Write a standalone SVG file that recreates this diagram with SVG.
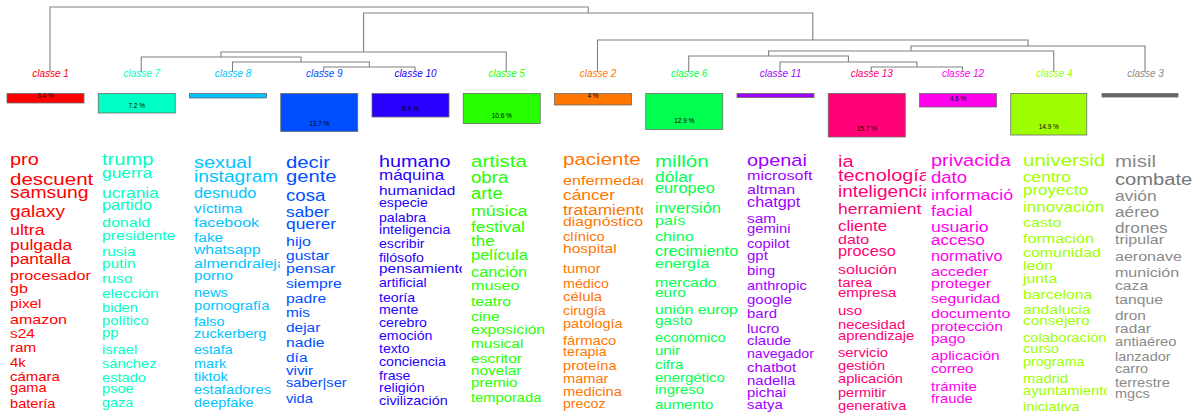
<svg xmlns="http://www.w3.org/2000/svg" width="1203" height="417" viewBox="0 0 1203 417">
<style>
text{font-family:"Liberation Sans",Arial,Helvetica,sans-serif}
.lbl{font-size:10px;font-style:italic;text-anchor:middle}
.pct{font-size:6.5px;fill:#000;text-anchor:middle}
.bar{stroke:#6a6a6a;stroke-width:0.8}
.den{fill:none;stroke:#808080;stroke-width:1.1}
.k1{fill:#FF0000}.k2{fill:#FF7600}.k3{fill:#8a8a8a}.k4{fill:#9DFF00}.k5{fill:#27FF00}.k6{fill:#00FF4E}.k7{fill:#00FFC4}.k8{fill:#00C4FF}.k9{fill:#004EFF}.k10{fill:#2700FF}.k11{fill:#9D00FF}.k12{fill:#FF00EC}.k13{fill:#FF0076}
</style>
<defs>
<clipPath id="cp1"><rect x="5" y="140" width="90" height="277"/></clipPath>
<clipPath id="cp3"><rect x="189" y="140" width="91" height="277"/></clipPath>
<clipPath id="cp5"><rect x="374" y="140" width="88" height="277"/></clipPath>
<clipPath id="cp7"><rect x="558" y="140" width="85" height="277"/></clipPath>
<clipPath id="cp8"><rect x="650" y="140" width="88" height="277"/></clipPath>
<clipPath id="cp10"><rect x="833" y="140" width="93" height="277"/></clipPath>
<clipPath id="cp11"><rect x="926" y="140" width="87" height="277"/></clipPath>
<clipPath id="cp12"><rect x="1018" y="140" width="89" height="277"/></clipPath>
</defs>
<rect width="1203" height="417" fill="#fff"/>

<g id="connectors" class="den">
<path d="M323.75 72 V67 H415 V72"/>
<path d="M232.5 72 V62 H369.4 V67"/>
<path d="M141.25 72 V57 H301 V62"/>
<path d="M221 57 V52 H506.25 V72"/>
<path d="M871.25 72 V67 H962.5 V72"/>
<path d="M780 72 V62 H916.9 V67"/>
<path d="M688.75 72 V56 H848.4 V62"/>
<path d="M768.6 56 V51 H1053.75 V72"/>
<path d="M911 51 V46 H1145 V72"/>
<path d="M597.5 72 V40 H1028 V46"/>
<path d="M363.6 52 V13 H812.8 V40"/>
<path d="M50 72 V7 H588.2 V13"/>
</g>

<g id="classe1">
<text class="lbl k1" x="50.5" y="77">classe 1</text>
<rect class="bar k1" x="7" y="93.5" width="77" height="9.5"/>
<text class="pct" x="45.5" y="97.8">3.4 %</text>
<g class="k1" clip-path="url(#cp1)"><g transform="translate(10,0) scale(1.18,1)">
<text x="0" y="165" font-size="16.9">pro</text>
<text x="0" y="185" font-size="17.4">descuent</text>
<text x="0" y="198.5" font-size="16.4">samsung</text>
<text x="0" y="217" font-size="16.1">galaxy</text>
<text x="0" y="235.5" font-size="15.1">ultra</text>
<text x="0" y="250" font-size="14.8">pulgada</text>
<text x="0" y="264" font-size="14.7">pantalla</text>
<text x="0" y="280" font-size="13.7">procesador</text>
<text x="0" y="293" font-size="13.6">gb</text>
<text x="0" y="308" font-size="13">pixel</text>
<text x="0" y="324" font-size="13.6">amazon</text>
<text x="0" y="338" font-size="13.1">s24</text>
<text x="0" y="352" font-size="12.9">ram</text>
<text x="0" y="367" font-size="12.7">4k</text>
<text x="0" y="381" font-size="12.7">cámara</text>
<text x="0" y="392" font-size="12.4">gama</text>
<text x="0" y="408" font-size="12.4">batería</text>
</g></g>
</g>

<g id="classe7">
<text class="lbl k7" x="141.75" y="77">classe 7</text>
<rect class="bar k7" x="98.25" y="93.5" width="77" height="19.5"/>
<text class="pct" x="136.75" y="107.5">7.2 %</text>
<g class="k7"><g transform="translate(102,0) scale(1.18,1)">
<text x="0" y="165" font-size="17.1">trump</text>
<text x="0" y="178.3" font-size="14.7">guerra</text>
<text x="0" y="198.3" font-size="14.7">ucrania</text>
<text x="0" y="210" font-size="13.8">partido</text>
<text x="0" y="226.7" font-size="13.6">donald</text>
<text x="0" y="240" font-size="13.3">presidente</text>
<text x="0" y="256" font-size="13.1">rusia</text>
<text x="0" y="268.3" font-size="13.1">putin</text>
<text x="0" y="282.7" font-size="13.3">ruso</text>
<text x="0" y="298.3" font-size="13.1">elección</text>
<text x="0" y="311.7" font-size="12.4">biden</text>
<text x="0" y="325" font-size="12.5">político</text>
<text x="0" y="336.7" font-size="12.5">pp</text>
<text x="0" y="354" font-size="12.5">israel</text>
<text x="0" y="368.3" font-size="12.4">sánchez</text>
<text x="0" y="382.3" font-size="12.4">estado</text>
<text x="0" y="392.7" font-size="12.4">psoe</text>
<text x="0" y="406.7" font-size="12.2">gaza</text>
</g></g>
</g>

<g id="classe8">
<text class="lbl k8" x="233" y="77">classe 8</text>
<rect class="bar k8" x="189.5" y="93.5" width="77" height="4.5"/>
<g class="k8" clip-path="url(#cp3)"><g transform="translate(194,0) scale(1.18,1)">
<text x="0" y="168.3" font-size="16.9">sexual</text>
<text x="0" y="181.7" font-size="16.3">instagram</text>
<text x="0" y="198.3" font-size="13.8">desnudo</text>
<text x="0" y="213.3" font-size="13">víctima</text>
<text x="0" y="227.3" font-size="13.6">facebook</text>
<text x="0" y="241.7" font-size="13.1">fake</text>
<text x="0" y="254.3" font-size="13.2">whatsapp</text>
<text x="0" y="267.7" font-size="13.6">almendraleja</text>
<text x="0" y="280" font-size="12.9">porno</text>
<text x="0" y="296.7" font-size="12.3">news</text>
<text x="0" y="310" font-size="12.5">pornografía</text>
<text x="0" y="326" font-size="12.3">falso</text>
<text x="0" y="338.3" font-size="12.4">zuckerberg</text>
<text x="0" y="354" font-size="12">estafa</text>
<text x="0" y="367.7" font-size="12.3">mark</text>
<text x="0" y="380.7" font-size="12.3">tiktok</text>
<text x="0" y="394" font-size="12.5">estafadores</text>
<text x="0" y="406.7" font-size="12.3">deepfake</text>
</g></g>
</g>

<g id="classe9">
<text class="lbl k9" x="324.25" y="77">classe 9</text>
<rect class="bar k9" x="280.75" y="93.5" width="77" height="38"/>
<text class="pct" x="319.25" y="125.5">13.7 %</text>
<g class="k9"><g transform="translate(286,0) scale(1.18,1)">
<text x="0" y="168.3" font-size="17.2">decir</text>
<text x="0" y="181.7" font-size="17.1">gente</text>
<text x="0" y="201" font-size="15.8">cosa</text>
<text x="0" y="217.3" font-size="14.7">saber</text>
<text x="0" y="229.3" font-size="14.7">querer</text>
<text x="0" y="246" font-size="13.6">hijo</text>
<text x="0" y="260" font-size="13.2">gustar</text>
<text x="0" y="272.7" font-size="13.7">pensar</text>
<text x="0" y="288.3" font-size="13.3">siempre</text>
<text x="0" y="303.3" font-size="13.3">padre</text>
<text x="0" y="317.3" font-size="13.1">mis</text>
<text x="0" y="331.7" font-size="13.1">dejar</text>
<text x="0" y="346.7" font-size="13.3">nadie</text>
<text x="0" y="361.7" font-size="13.1">día</text>
<text x="0" y="375" font-size="12.9">vivir</text>
<text x="0" y="387.3" font-size="12.4">saber|ser</text>
<text x="0" y="403.3" font-size="12.4">vida</text>
</g></g>
</g>

<g id="classe10">
<text class="lbl k10" x="415.5" y="77">classe 10</text>
<rect class="bar k10" x="372" y="93.5" width="77" height="23.5"/>
<text class="pct" x="410.5" y="110.5">8.4 %</text>
<g class="k10" clip-path="url(#cp5)"><g transform="translate(379,0) scale(1.18,1)">
<text x="0" y="166.7" font-size="16.8">humano</text>
<text x="0" y="180" font-size="14.4">máquina</text>
<text x="0" y="195" font-size="13.1">humanidad</text>
<text x="0" y="206.7" font-size="12">especie</text>
<text x="0" y="221.7" font-size="12">palabra</text>
<text x="0" y="234.3" font-size="12.1">inteligencia</text>
<text x="0" y="248.3" font-size="12">escribir</text>
<text x="0" y="261.7" font-size="12">filósofo</text>
<text x="0" y="273.3" font-size="13.1">pensamiento</text>
<text x="0" y="287.3" font-size="11.9">artificial</text>
<text x="0" y="301.7" font-size="12">teoría</text>
<text x="0" y="314" font-size="12">mente</text>
<text x="0" y="327.3" font-size="12">cerebro</text>
<text x="0" y="340" font-size="12">emoción</text>
<text x="0" y="353.3" font-size="12">texto</text>
<text x="0" y="366" font-size="12">conciencia</text>
<text x="0" y="380" font-size="12">frase</text>
<text x="0" y="391.7" font-size="12">religión</text>
<text x="0" y="405" font-size="12.2">civilización</text>
</g></g>
</g>

<g id="classe5">
<text class="lbl k5" x="506.75" y="77">classe 5</text>
<rect class="bar k5" x="463.25" y="93.5" width="77" height="30"/>
<text class="pct" x="501.75" y="117.5">10.6 %</text>
<g class="k5"><g transform="translate(471,0) scale(1.18,1)">
<text x="0" y="167.3" font-size="17.4">artista</text>
<text x="0" y="183.3" font-size="15.8">obra</text>
<text x="0" y="199.3" font-size="15.6">arte</text>
<text x="0" y="216" font-size="15.1">música</text>
<text x="0" y="231.7" font-size="14.7">festival</text>
<text x="0" y="246" font-size="14.4">the</text>
<text x="0" y="260" font-size="14">película</text>
<text x="0" y="277.3" font-size="13.8">canción</text>
<text x="0" y="290" font-size="13.7">museo</text>
<text x="0" y="306" font-size="13.3">teatro</text>
<text x="0" y="320.7" font-size="13.3">cine</text>
<text x="0" y="334.3" font-size="13.3">exposición</text>
<text x="0" y="348.3" font-size="13.1">musical</text>
<text x="0" y="363.3" font-size="13.2">escritor</text>
<text x="0" y="375" font-size="13">novelar</text>
<text x="0" y="387.3" font-size="12.9">premio</text>
<text x="0" y="401.7" font-size="12.5">temporada</text>
</g></g>
</g>

<g id="classe2">
<text class="lbl k2" x="598" y="77">classe 2</text>
<rect class="bar k2" x="554.5" y="93.5" width="77" height="11.5"/>
<text class="pct" x="593" y="97.8">4 %</text>
<g class="k2" clip-path="url(#cp7)"><g transform="translate(563,0) scale(1.18,1)">
<text x="0" y="164.7" font-size="17.4">paciente</text>
<text x="0" y="184.7" font-size="13.7">enfermedad</text>
<text x="0" y="199.7" font-size="14.7">cáncer</text>
<text x="0" y="214.7" font-size="14.7">tratamiento</text>
<text x="0" y="226.3" font-size="13.4">diagnóstico</text>
<text x="0" y="241.3" font-size="12.5">clínico</text>
<text x="0" y="253" font-size="13.2">hospital</text>
<text x="0" y="273" font-size="12.5">tumor</text>
<text x="0" y="288" font-size="12.1">médico</text>
<text x="0" y="301.3" font-size="12.7">célula</text>
<text x="0" y="314.7" font-size="12.1">cirugía</text>
<text x="0" y="328" font-size="12.3">patología</text>
<text x="0" y="344.7" font-size="12.5">fármaco</text>
<text x="0" y="356.3" font-size="12.1">terapia</text>
<text x="0" y="369.7" font-size="12.4">proteína</text>
<text x="0" y="383" font-size="12.4">mamar</text>
<text x="0" y="396.3" font-size="12.5">medicina</text>
<text x="0" y="408" font-size="12">precoz</text>
</g></g>
</g>

<g id="classe6">
<text class="lbl k6" x="689.25" y="77">classe 6</text>
<rect class="bar k6" x="645.75" y="93.5" width="77" height="36"/>
<text class="pct" x="684.25" y="122.5">12.9 %</text>
<g class="k6" clip-path="url(#cp8)"><g transform="translate(655,0) scale(1.18,1)">
<text x="0" y="166.7" font-size="17.4">millón</text>
<text x="0" y="181.7" font-size="14.7">dólar</text>
<text x="0" y="193.3" font-size="13.8">europeo</text>
<text x="0" y="212.7" font-size="14">inversión</text>
<text x="0" y="225" font-size="13.6">país</text>
<text x="0" y="240.7" font-size="13.7">chino</text>
<text x="0" y="256" font-size="13.8">crecimiento</text>
<text x="0" y="268.3" font-size="13.6">energía</text>
<text x="0" y="286.7" font-size="13.4">mercado</text>
<text x="0" y="297.3" font-size="13.1">euro</text>
<text x="0" y="314" font-size="13.3">unión europ</text>
<text x="0" y="325" font-size="13">gasto</text>
<text x="0" y="341.7" font-size="12.4">económico</text>
<text x="0" y="355" font-size="12.7">unir</text>
<text x="0" y="369.3" font-size="12.7">cifra</text>
<text x="0" y="381.7" font-size="12.7">energético</text>
<text x="0" y="394" font-size="12.7">ingreso</text>
<text x="0" y="409.3" font-size="12.7">aumento</text>
</g></g>
</g>

<g id="classe11">
<text class="lbl k11" x="780.5" y="77">classe 11</text>
<rect class="bar k11" x="737" y="93.5" width="77" height="4"/>
<g class="k11"><g transform="translate(747,0) scale(1.18,1)">
<text x="0" y="166" font-size="16.9">openai</text>
<text x="0" y="180" font-size="13.7">microsoft</text>
<text x="0" y="194.5" font-size="13.6">altman</text>
<text x="0" y="207" font-size="13.8">chatgpt</text>
<text x="0" y="222.7" font-size="13.1">sam</text>
<text x="0" y="233.3" font-size="12.5">gemini</text>
<text x="0" y="248.3" font-size="12.5">copilot</text>
<text x="0" y="260" font-size="12.7">gpt</text>
<text x="0" y="275" font-size="12.7">bing</text>
<text x="0" y="290" font-size="12.3">anthropic</text>
<text x="0" y="304" font-size="12.7">google</text>
<text x="0" y="318.3" font-size="12.7">bard</text>
<text x="0" y="332.7" font-size="12.7">lucro</text>
<text x="0" y="345" font-size="12.7">claude</text>
<text x="0" y="358.3" font-size="12">navegador</text>
<text x="0" y="371.7" font-size="12.7">chatbot</text>
<text x="0" y="385" font-size="12.7">nadella</text>
<text x="0" y="397.3" font-size="12.7">pichai</text>
<text x="0" y="409.3" font-size="12.7">satya</text>
</g></g>
</g>

<g id="classe13">
<text class="lbl k13" x="871.75" y="77">classe 13</text>
<rect class="bar k13" x="828.25" y="93.5" width="77" height="43.5"/>
<text class="pct" x="866.75" y="130.5">15.7 %</text>
<g class="k13" clip-path="url(#cp10)"><g transform="translate(838,0) scale(1.18,1)">
<text x="0" y="166.7" font-size="16.9">ia</text>
<text x="0" y="180.7" font-size="16.9">tecnología</text>
<text x="0" y="196.7" font-size="16.1">inteligencia</text>
<text x="0" y="214" font-size="14.8">herramient</text>
<text x="0" y="230.7" font-size="14.4">cliente</text>
<text x="0" y="244" font-size="13.6">dato</text>
<text x="0" y="256.5" font-size="13.8">proceso</text>
<text x="0" y="274" font-size="13.6">solución</text>
<text x="0" y="286.7" font-size="12.7">tarea</text>
<text x="0" y="297.3" font-size="12.7">empresa</text>
<text x="0" y="315" font-size="12.7">uso</text>
<text x="0" y="329.3" font-size="12.5">necesidad</text>
<text x="0" y="340" font-size="12.5">aprendizaje</text>
<text x="0" y="357.3" font-size="12.5">servicio</text>
<text x="0" y="370" font-size="12.4">gestión</text>
<text x="0" y="383.3" font-size="12.4">aplicación</text>
<text x="0" y="396.7" font-size="12.3">permitir</text>
<text x="0" y="410" font-size="12.4">generativa</text>
</g></g>
</g>

<g id="classe12">
<text class="lbl k12" x="963" y="77">classe 12</text>
<rect class="bar k12" x="919.5" y="93.5" width="77" height="13.5"/>
<text class="pct" x="958" y="100.5">4.6 %</text>
<g class="k12" clip-path="url(#cp11)"><g transform="translate(931,0) scale(1.18,1)">
<text x="0" y="166" font-size="16.9">privacida</text>
<text x="0" y="183.3" font-size="15.7">dato</text>
<text x="0" y="200" font-size="15.1">informació</text>
<text x="0" y="216" font-size="15.1">facial</text>
<text x="0" y="231.7" font-size="14.9">usuario</text>
<text x="0" y="245" font-size="14.4">acceso</text>
<text x="0" y="260.7" font-size="13.8">normativo</text>
<text x="0" y="276" font-size="13.6">acceder</text>
<text x="0" y="288.3" font-size="13.7">proteger</text>
<text x="0" y="302.7" font-size="13.3">seguridad</text>
<text x="0" y="318.3" font-size="13.6">documento</text>
<text x="0" y="330.7" font-size="13.2">protección</text>
<text x="0" y="343.3" font-size="13.1">pago</text>
<text x="0" y="360" font-size="13.1">aplicación</text>
<text x="0" y="373.3" font-size="12.7">correo</text>
<text x="0" y="390.7" font-size="12.7">trámite</text>
<text x="0" y="403.3" font-size="12.5">fraude</text>
</g></g>
</g>

<g id="classe4">
<text class="lbl k4" x="1054.25" y="77">classe 4</text>
<rect class="bar k4" x="1010.75" y="93.5" width="76" height="41.5"/>
<text class="pct" x="1048.75" y="128.5">14.9 %</text>
<g class="k4" clip-path="url(#cp12)"><g transform="translate(1023,0) scale(1.18,1)">
<text x="0" y="166" font-size="17.4">universid</text>
<text x="0" y="181.7" font-size="14.6">centro</text>
<text x="0" y="195" font-size="14.4">proyecto</text>
<text x="0" y="211.7" font-size="14.4">innovación</text>
<text x="0" y="227.3" font-size="13.6">casto</text>
<text x="0" y="242.7" font-size="13.7">formación</text>
<text x="0" y="256.7" font-size="13.5">comunidad</text>
<text x="0" y="270" font-size="13.4">león</text>
<text x="0" y="283.3" font-size="13.4">junta</text>
<text x="0" y="299.3" font-size="13.4">barcelona</text>
<text x="0" y="314" font-size="13.4">andalucia</text>
<text x="0" y="325" font-size="13">consejero</text>
<text x="0" y="341.7" font-size="12.5">colaboración</text>
<text x="0" y="353.3" font-size="12.5">curso</text>
<text x="0" y="366" font-size="12.2">programa</text>
<text x="0" y="383.3" font-size="12.5">madrid</text>
<text x="0" y="395" font-size="12.5">ayuntamiento</text>
<text x="0" y="410.7" font-size="12.5">iniciativa</text>
</g></g>
</g>

<g id="classe3">
<text class="lbl k3" x="1145.5" y="77">classe 3</text>
<rect class="bar" x="1102" y="93.5" width="76" height="3.5" fill="#666"/>
<g class="k3"><g transform="translate(1115,0) scale(1.18,1)">
<text x="0" y="167.3" font-size="17.4">misil</text>
<text x="0" y="185" font-size="17.1" fill="#777">combate</text>
<text x="0" y="200.7" font-size="14.8">avión</text>
<text x="0" y="216.7" font-size="14.6">aéreo</text>
<text x="0" y="232.7" font-size="14.6">drones</text>
<text x="0" y="244" font-size="13.6">tripular</text>
<text x="0" y="260.7" font-size="13.6">aeronave</text>
<text x="0" y="276.7" font-size="13.6">munición</text>
<text x="0" y="290" font-size="13.3">caza</text>
<text x="0" y="304" font-size="13.3">tanque</text>
<text x="0" y="320" font-size="13.1">dron</text>
<text x="0" y="332.7" font-size="13">radar</text>
<text x="0" y="346" font-size="12.5">antiaéreo</text>
<text x="0" y="360.7" font-size="12.3">lanzador</text>
<text x="0" y="372.7" font-size="12.3">carro</text>
<text x="0" y="386.7" font-size="12.5">terrestre</text>
<text x="0" y="398.3" font-size="12.3">mgcs</text>
</g></g>
</g>
</svg>
